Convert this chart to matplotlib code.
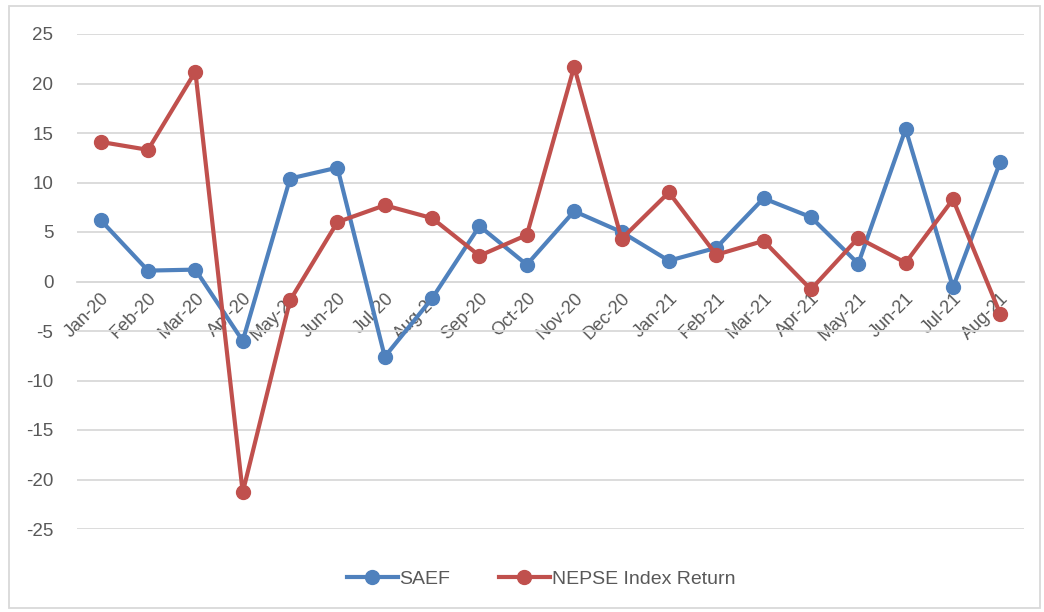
import matplotlib
matplotlib.use("Agg")
import matplotlib.pyplot as plt
from matplotlib.patches import Rectangle

months = ['Jan-20', 'Feb-20', 'Mar-20', 'Apr-20', 'May-20', 'Jun-20', 'Jul-20',
          'Aug-20', 'Sep-20', 'Oct-20', 'Nov-20', 'Dec-20', 'Jan-21', 'Feb-21',
          'Mar-21', 'Apr-21', 'May-21', 'Jun-21', 'Jul-21', 'Aug-21']
saef = [6.2, 1.1, 1.2, -6.0, 10.4, 11.5, -7.6, -1.7, 5.6, 1.7,
        7.1, 5.0, 2.1, 3.4, 8.4, 6.5, 1.8, 15.4, -0.6, 12.1]
nepse = [14.1, 13.3, 21.2, -21.3, -1.9, 6.0, 7.7, 6.4, 2.6, 4.7,
         21.7, 4.3, 9.0, 2.7, 4.1, -0.8, 4.4, 1.9, 8.3, -3.3]

blue = '#4F81BD'
red = '#C0504D'
grid = '#D9D9D9'
txt = '#595959'

plt.rcParams['font.family'] = ['Liberation Sans', 'DejaVu Sans']
plt.rcParams['axes.unicode_minus'] = False

fig = plt.figure(figsize=(10.44, 6.12), dpi=100)
ax = fig.add_axes([77/1044, 1-529/612, (1024-77)/1044, (529-34)/612])

x = range(len(months))
ax.plot(x, saef, color=blue, lw=3, marker='o', ms=10, label='SAEF', zorder=3)
ax.plot(x, nepse, color=red, lw=3, marker='o', ms=10, label='NEPSE Index Return', zorder=3)

ax.set_xlim(-0.5, len(months) - 0.5)
ax.set_ylim(-25, 25)
ax.set_yticks(range(-25, 30, 5))
ax.yaxis.grid(True, color=grid, lw=1.3)
ax.set_axisbelow(True)

for s in ['top', 'right', 'left']:
    ax.spines[s].set_visible(False)
ax.spines['bottom'].set_position(('data', 0))
ax.spines['bottom'].set_color(grid)
ax.spines['bottom'].set_linewidth(1.3)

ax.set_xticks(list(x))
ax.set_xticklabels(months, rotation=45, ha='right', rotation_mode='anchor')
ax.tick_params(axis='x', length=0, pad=6, labelsize=13, labelcolor=txt)
ax.tick_params(axis='y', length=0, pad=17, labelsize=13.5, labelcolor=txt)

ax.legend(loc='lower center', bbox_to_anchor=(0.49, -0.155), ncol=2, frameon=False,
          fontsize=14, labelcolor=txt, handlelength=2.6, handletextpad=0.1,
          columnspacing=2.5)

fig.patches.append(Rectangle((9/1044, 1-608/612), (1040-9)/1044, (608-6)/612,
                             transform=fig.transFigure, fill=False,
                             edgecolor=grid, lw=1.3))

fig.savefig('out.png', dpi=100)
